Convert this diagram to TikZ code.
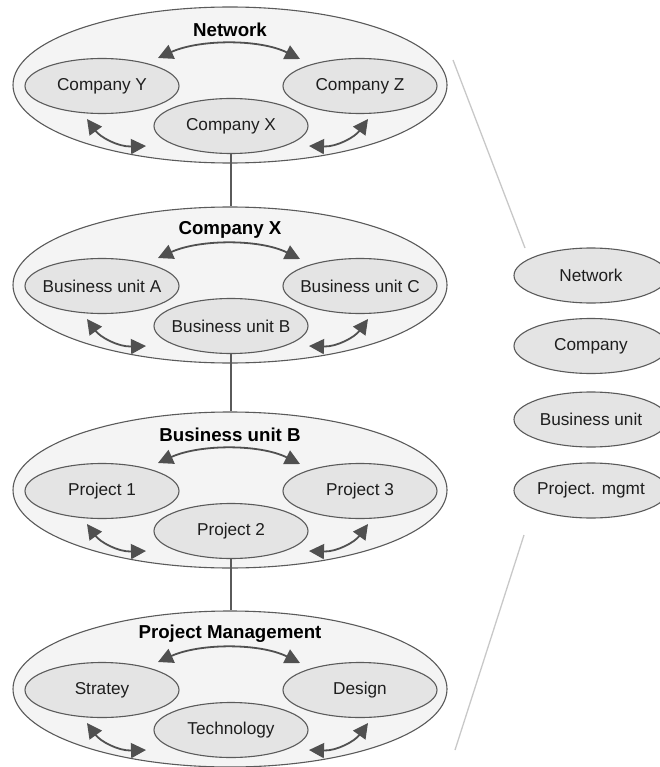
\documentclass[tikz,border=0pt]{standalone}
\usepackage{fontspec}
\setmainfont{Liberation Sans}
\usetikzlibrary{shapes.geometric,arrows.meta}

\definecolor{edgegray}{HTML}{5A5A5A}
\definecolor{arrowgray}{HTML}{505050}
\definecolor{outerfill}{HTML}{F4F4F4}
\definecolor{unitfill}{HTML}{E4E4E4}
\definecolor{guidegray}{HTML}{C8C8C8}
\definecolor{textdark}{HTML}{1E1E1E}

\tikzset{
  outer/.style={ellipse, draw=edgegray, line width=1.1pt, fill=outerfill,
    minimum width=434pt, minimum height=156pt, inner sep=0pt},
  unit/.style={ellipse, draw=edgegray, line width=1.1pt, fill=unitfill,
    minimum width=154pt, minimum height=55pt, inner sep=0pt,
    font=\fontsize{17.2}{19}\selectfont, text=textdark},
  leveltitle/.style={font=\bfseries\fontsize{18.7}{20}\selectfont, text=black, inner sep=0pt},
  link/.style={draw=arrowgray, line width=1.8pt,
    {Triangle[length=15pt,width=15pt]}-{Triangle[length=15pt,width=15pt]}},
  tie/.style={draw=edgegray, line width=1.3pt},
  guide/.style={draw=guidegray, line width=1.3pt}
}

% One level of the hierarchy: #1 name, #2 vertical centre, #3 title,
% #4 left unit, #5 middle unit, #6 right unit
\newcommand\tierlevel[6]{%
  \node[outer] (#1) at (230,#2) {};
  \node[leveltitle] (#1-title) at (230,#2-55) {#3};
  \node[unit] (#1-left)  at (102,#2+1)  {\makebox[0pt]{#4}};
  \node[unit] (#1-right) at (360,#2+1)  {\makebox[0pt]{#6}};
  \node[unit] (#1-mid)   at (231,#2+41) {\makebox[0pt]{#5}};
  \coordinate (#1-ta) at (158,#2-27);
  \coordinate (#1-tb) at (300,#2-26);
  \coordinate (#1-la) at (87,#2+34);
  \coordinate (#1-lb) at (146,#2+61);
  \coordinate (#1-ra) at (309,#2+61);
  \coordinate (#1-rb) at (368,#2+34);
  \draw[link] (#1-ta) .. controls (200,#2-46) and (260,#2-46) .. (#1-tb);
  \draw[link] (#1-la) .. controls (100,#2+52) and (118,#2+62) .. (#1-lb);
  \draw[link] (#1-ra) .. controls (337,#2+62) and (355,#2+52) .. (#1-rb);
}

\begin{document}
\begin{tikzpicture}[x=1pt,y=-1pt]
  \useasboundingbox (0,0) rectangle (660,767);

  \tierlevel{net}{85}{Network}{Company Y}{Company X}{Company Z}
  \tierlevel{comp}{285}{Company X}{Business unit A}{Business unit B}{Business unit C}
  \tierlevel{bu}{490}{Business unit B}{Project 1}{Project 2}{Project 3}
  \tierlevel{pm}{689}{Project Management}{Stratey}{Technology}{Design}

  % drill-down links between levels
  \draw[tie] (net-mid.south) -- (net-mid.south |- comp.north);
  \draw[tie] (comp-mid.south) -- (comp-mid.south |- bu.north);
  \draw[tie] (bu-mid.south) -- (bu-mid.south |- pm.north);

  % legend of levels
  \node[unit] (lg-net)  at (591,275.5) {\makebox[0pt]{Network}};
  \node[unit] (lg-comp) at (591,346)   {\makebox[0pt]{Company}};
  \node[unit] (lg-bu)   at (591,419.5) {\makebox[0pt]{Business unit}};
  \node[unit] (lg-pm)   at (591,490.5) {\makebox[0pt]{Project. mgmt}};

  % bracket lines
  \coordinate (gu-top)  at (453,60);
  \coordinate (gu-tip1) at (525,248);
  \coordinate (gu-tip2) at (524,535);
  \coordinate (gu-bot)  at (455,750);
  \draw[guide] (gu-top) -- (gu-tip1);
  \draw[guide] (gu-tip2) -- (gu-bot);
\end{tikzpicture}
\end{document}
